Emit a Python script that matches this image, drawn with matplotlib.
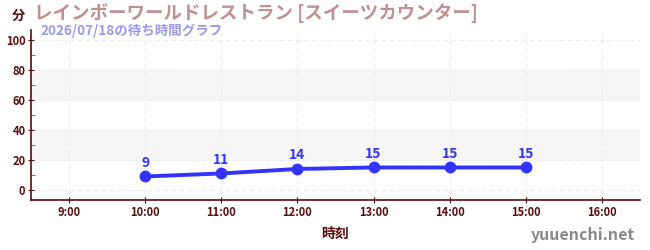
import numpy as np
import matplotlib
matplotlib.use("Agg")
from matplotlib import pyplot as plt
from matplotlib.ticker import MultipleLocator

plt.rcParams['font.family'] = ['Noto Sans CJK JP', 'DejaVu Sans']

# data
hours = [10, 11, 12, 13, 14, 15]
waits = [9, 11, 14, 15, 15, 15]
xtick_hours = [9, 10, 11, 12, 13, 14, 15, 16]
xtick_labels = ["9:00", "10:00", "11:00", "12:00", "13:00", "14:00", "15:00", "16:00"]
yticks = [0, 20, 40, 60, 80, 100]
bands = [(20, 40), (60, 80)]

title = "レインボーワールドレストラン [スイーツカウンター]"
subtitle = "2026/07/18の待ち時間グラフ"

dark = "#5a0a0a"
blue = "#3333ff"

fig = plt.figure(figsize=(6.5, 2.5), dpi=100)
ax = fig.add_axes([31 / 650, 0.2, 609 / 650, 0.68])

for lo, hi in bands:
    ax.axhspan(lo, hi, color="#f6f6f6", zorder=0)

ax.plot(hours, waits, color=blue, lw=2.8, marker="o", ms=7.5, zorder=3)
for h, w in zip(hours, waits):
    ax.annotate(str(w), (h, w), xytext=(0, 5), textcoords="offset points",
                ha="center", va="bottom", color=blue, fontsize=10,
                fontweight="bold")

ax.set_xlim(8.5, 16.5)
ax.set_ylim(-6.7, 106.7)
ax.set_xticks(xtick_hours)
ax.set_xticklabels(xtick_labels)
ax.set_yticks(yticks)
ax.yaxis.set_minor_locator(MultipleLocator(10))
ax.grid(True, which="major", color="#ececec", linestyle=(0, (4, 3)), lw=0.8)
ax.set_axisbelow(True)

for side in ("top", "right"):
    ax.spines[side].set_visible(False)
for side in ("left", "bottom"):
    ax.spines[side].set_color(dark)
    ax.spines[side].set_linewidth(1.2)

ax.tick_params(axis="both", which="major", colors=dark, labelsize=8,
               length=4, direction="inout", pad=2)
ax.tick_params(axis="y", which="minor", colors="#dd2222", length=3,
               direction="in")
for lbl in ax.get_xticklabels() + ax.get_yticklabels():
    lbl.set_fontweight("bold")

ax.set_xlabel("時刻", color=dark, fontsize=10, fontweight="bold", labelpad=6)

fig.text(34 / 650, 1 - 13 / 250, title, color="#c09090", fontsize=13.3,
         fontweight="bold", va="center", ha="left")
fig.text(40 / 650, 1 - 31 / 250, subtitle, color="#9999ee", fontsize=9.7,
         fontweight="bold", va="center", ha="left")
fig.text(12 / 650, 1 - 16 / 250, "分", color=dark, fontsize=9.5,
         fontweight="bold", va="center", ha="left")
fig.text(635 / 650, 1 - 235 / 250, "yuuenchi.net", color="#888888",
         fontsize=11.5, fontweight="bold", va="center", ha="right")

fig.savefig("out.png", dpi=100)
